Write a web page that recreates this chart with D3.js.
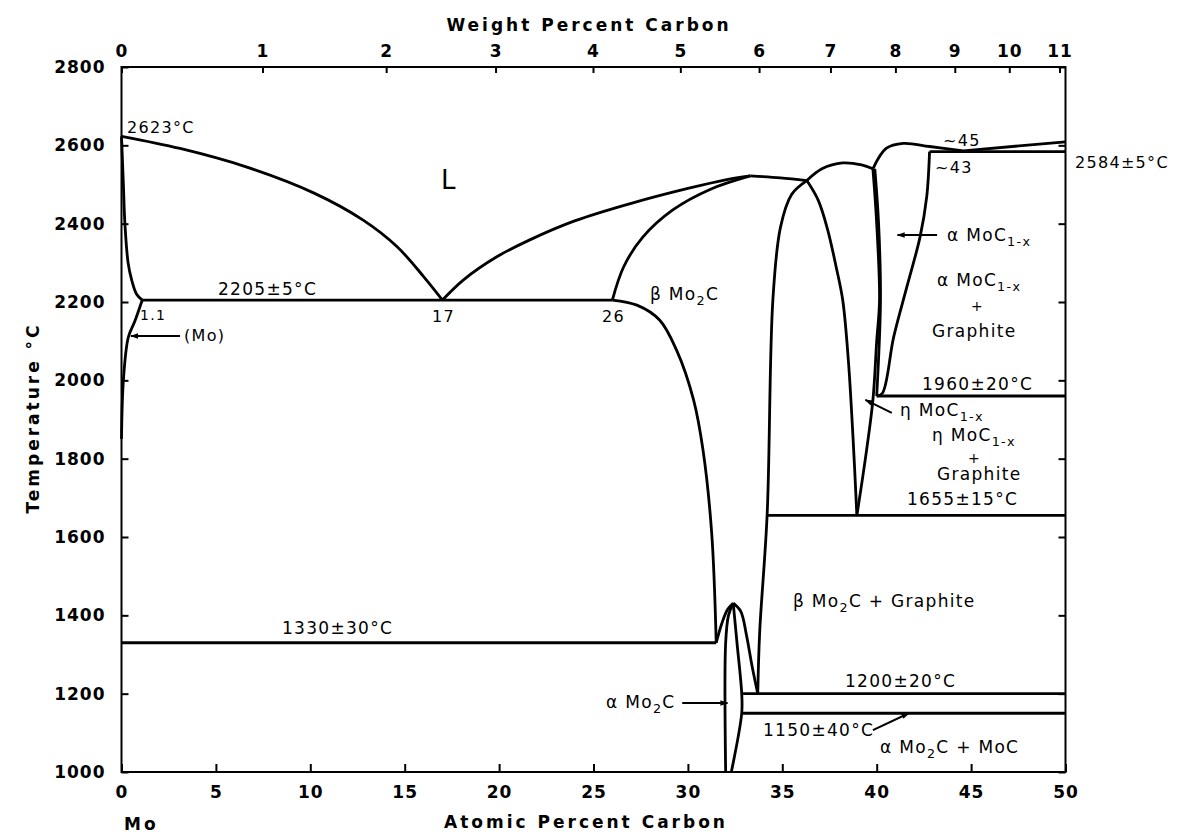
<!DOCTYPE html>
<html>
<head>
<meta charset="utf-8">
<script src="https://cdn.jsdelivr.net/npm/d3@7"></script>
<style>
  body { margin: 0; background: #fff; }
  svg { display: block; }
  .tick text { font-family: "DejaVu Sans", sans-serif; font-weight: bold; font-size: 17px; fill: #000; letter-spacing: 1px; }
  .tick line { stroke: #000; stroke-width: 2px; }
  .lbl { font-family: "DejaVu Sans", sans-serif; font-size: 16px; fill: #000; letter-spacing: 1.3px; }
  .ttl { font-family: "DejaVu Sans", sans-serif; font-weight: bold; font-size: 17px; fill: #000; letter-spacing: 3px; }
</style>
</head>
<body>
<div id="chart"></div>
<script>
// axis ticks
const atTicks = [0, 5, 10, 15, 20, 25, 30, 35, 40, 45, 50];
const wtTicks = [0, 1, 2, 3, 4, 5, 6, 7, 8, 9, 10, 11];
const tempTicks = [1000, 1200, 1400, 1600, 1800, 2000, 2200, 2400, 2600, 2800];

// phase boundaries, [atomic % C, temperature]
const liquidusMo = [[0, 2623], [3.1, 2592], [6.6, 2545], [10.2, 2478], [12.8, 2409], [14.6, 2341], [16.0, 2265], [17, 2205]];
const liquidusMo2C = [[17, 2205], [18.1, 2256], [19.9, 2316], [21.6, 2358], [24, 2407], [27, 2452], [30, 2490], [32, 2512], [33.3, 2522]];
const solidusMo = [[0, 2623], [0.1, 2500], [0.18, 2400], [0.35, 2300], [0.54, 2256], [0.8, 2220], [1.1, 2205]];
const solvusMo = [[1.1, 2205], [0.7, 2150], [0.36, 2110], [0.1, 2000], [0, 1850]];
const solidusMo2C = [[26, 2205], [26.6, 2290], [27.6, 2365], [29.2, 2435], [31.2, 2488], [33.3, 2522]];
const betaLeft = [[26, 2205], [27.3, 2192], [28.5, 2154], [29.4, 2077], [30.3, 1950], [30.8, 1822], [31.26, 1610], [31.5, 1330]];
const betaRight = [[33.7, 1200], [33.8, 1355], [34.2, 1660], [34.5, 2205], [34.9, 2390], [35.5, 2475], [36.3, 2510]];
const betaTop = [[33.3, 2522], [34.9, 2517], [36.3, 2510]];
const etaDome = [[36.3, 2510], [37.1, 2540], [38.2, 2555], [39.2, 2550], [39.8, 2540]];
const etaLeft = [[36.3, 2510], [36.9, 2460], [37.4, 2385], [37.85, 2290], [38.2, 2205], [38.5, 2050], [38.75, 1850], [38.95, 1655]];
const etaRight = [[38.95, 1655], [39.4, 1800], [39.8, 1950], [40.0, 2100], [40.15, 2205], [40.0, 2400], [39.8, 2540]];
const alphaLeft = [[40.0, 1960], [40.2, 2205], [40.1, 2400], [39.9, 2540]];
const alphaDome = [[39.8, 2540], [40.5, 2592], [41.4, 2605], [42.8, 2597], [44.6, 2586]];
const alphaRight = [[42.8, 2584], [42.65, 2469], [42.3, 2367], [41.6, 2239], [40.9, 2111], [40.3, 1967], [40.0, 1960]];
const liquidusC = [[44.6, 2586], [50, 2609]];
const domeLeft = [[31.5, 1330], [31.8, 1380], [32.1, 1415], [32.4, 1431]];
const domeRight = [[32.4, 1431], [32.8, 1410], [33.1, 1350], [33.4, 1270], [33.7, 1200]];
const a2Left = [[32.0, 1000], [32.0, 1330], [32.15, 1400], [32.4, 1431]];
const a2Right = [[32.4, 1431], [32.6, 1330], [32.85, 1200], [32.85, 1150], [32.3, 1000]];

// isotherms [from, to, temperature]
const isotherms = [[1.1, 26, 2205], [0, 31.5, 1330], [42.8, 50, 2584], [40.0, 50, 1960], [34.2, 50, 1655], [32.85, 50, 1200], [32.85, 50, 1150]];

// annotations [text, x px, y px, size]; _{..} marks a subscript
const labels = [
  ['2623°C', 127, 133, 16], ['2205±5°C', 218, 295, 17], ['17', 432, 322, 16], ['1.1', 140, 320, 14],
  ['(Mo)', 184, 341, 16], ['L', 441, 189, 26], ['26', 602, 322, 16], ['β Mo_{2}C', 650, 300, 17],
  ['1330±30°C', 282, 634, 17], ['β Mo_{2}C + Graphite', 793, 607, 17], ['α Mo_{2}C', 606, 708, 17],
  ['1200±20°C', 845, 687, 17], ['1150±40°C', 763, 736, 17], ['α Mo_{2}C + MoC', 880, 753, 17],
  ['1655±15°C', 907, 505, 17], ['η MoC_{1-x}', 932, 441, 17], ['+', 968, 463, 14], ['Graphite', 937, 480, 17],
  ['η MoC_{1-x}', 900, 416, 17], ['1960±20°C', 922, 390, 17], ['α MoC_{1-x}', 937, 286, 17], ['+', 971, 311, 14],
  ['Graphite', 932, 337, 17], ['α MoC_{1-x}', 947, 241, 17], ['2584±5°C', 1075, 168, 16], ['~45', 943, 146, 16], ['~43', 935, 173, 16]
];

// arrows [x1, T1, x2, T2] in data units
const arrows = [[3.1, 2113, 0.5, 2113], [29.7, 1176, 32.1, 1176], [39.8, 1107, 41.7, 1150],
  [40.8, 1917, 39.4, 1950], [43.2, 2371, 41.1, 2371]];

const width = 1181, height = 838;
const x = d3.scaleLinear().domain([0, 50]).range([121.5, 1065.5]);
const y = d3.scaleLinear().domain([1000, 2800]).range([772, 67]);

// weight % to atomic % carbon
const toAt = w => 100 * (w / 12.011) / (w / 12.011 + (100 - w) / 95.95);

const svg = d3.select('#chart').append('svg')
  .attr('width', width).attr('height', height);

svg.append('defs').append('marker')
  .attr('id', 'arr').attr('viewBox', '0 0 10 10')
  .attr('refX', 9).attr('refY', 5)
  .attr('markerWidth', 8).attr('markerHeight', 8)
  .attr('markerUnits', 'userSpaceOnUse')
  .attr('orient', 'auto')
  .append('path').attr('d', 'M0,1.5 L10,5 L0,8.5 Z').attr('fill', '#000');

const gx = svg.append('g').attr('transform', `translate(0,${y(1000)})`)
  .call(d3.axisBottom(x).tickValues(atTicks).tickSizeInner(-8).tickSizeOuter(0).tickPadding(14));
const gt = svg.append('g').attr('transform', `translate(0,${y(2800)})`)
  .call(d3.axisTop(x).tickValues(wtTicks.map(toAt)).tickFormat((d, i) => wtTicks[i]).tickSizeInner(-6).tickSizeOuter(0).tickPadding(10));
const gl = svg.append('g').attr('transform', `translate(${x(0)},0)`)
  .call(d3.axisLeft(y).tickValues(tempTicks).tickFormat(d3.format('d')).tickSizeInner(-7).tickSizeOuter(0).tickPadding(16));
const gr = svg.append('g').attr('transform', `translate(${x(50)},0)`)
  .call(d3.axisRight(y).tickValues(tempTicks).tickSizeInner(-7).tickSizeOuter(0).tickFormat(''));
[gx, gt, gl, gr].forEach(g => g.select('.domain').remove());

svg.append('rect')
  .attr('x', x(0)).attr('y', y(2800))
  .attr('width', x(50) - x(0)).attr('height', y(1000) - y(2800))
  .attr('fill', 'none').attr('stroke', '#000').attr('stroke-width', 2);

const line = d3.line().x(d => x(d[0])).y(d => y(d[1])).curve(d3.curveCatmullRom.alpha(0.5));
const curves = [liquidusMo, liquidusMo2C, solidusMo, solvusMo, solidusMo2C, betaLeft, betaRight, betaTop,
  etaDome, etaLeft, etaRight, alphaLeft, alphaDome, alphaRight, liquidusC, domeLeft, domeRight, a2Left, a2Right];
svg.append('g').selectAll('path').data(curves).join('path')
  .attr('d', line).attr('fill', 'none').attr('stroke', '#000').attr('stroke-width', 2.8)
  .attr('stroke-linejoin', 'round');

svg.append('g').selectAll('line').data(isotherms).join('line')
  .attr('x1', d => x(d[0])).attr('x2', d => x(d[1]))
  .attr('y1', d => y(d[2])).attr('y2', d => y(d[2]))
  .attr('stroke', '#000').attr('stroke-width', 2.8);

// titles
svg.append('text').attr('class', 'ttl').attr('x', 589).attr('y', 31).attr('text-anchor', 'middle').text('Weight Percent Carbon');
svg.append('text').attr('class', 'ttl').attr('x', 586).attr('y', 828).attr('text-anchor', 'middle').text('Atomic Percent Carbon');
svg.append('text').attr('class', 'ttl').attr('x', 124).attr('y', 830).text('Mo');
svg.append('text').attr('class', 'ttl').attr('transform', 'translate(39,418) rotate(-90)').attr('text-anchor', 'middle').text('Temperature °C');

const lbl = svg.append('g').selectAll('text').data(labels).join('text')
  .attr('class', 'lbl').attr('x', d => d[1]).attr('y', d => d[2])
  .style('font-size', d => d[3] + 'px');
lbl.each(function(d) {
  const t = d3.select(this);
  let shift = 0;
  d[0].split(/(_\{[^}]*\})/).filter(s => s).forEach(s => {
    if (s.startsWith('_{')) {
      t.append('tspan').attr('dy', 5).style('font-size', '0.75em').text(s.slice(2, -1));
      shift = -5;
    } else {
      t.append('tspan').attr('dy', shift).text(s);
      shift = 0;
    }
  });
});

svg.append('g').selectAll('line').data(arrows).join('line')
  .attr('x1', d => x(d[0])).attr('y1', d => y(d[1])).attr('x2', d => x(d[2])).attr('y2', d => y(d[3]))
  .attr('stroke', '#000').attr('stroke-width', 2).attr('marker-end', 'url(#arr)');
</script>
</body>
</html>
